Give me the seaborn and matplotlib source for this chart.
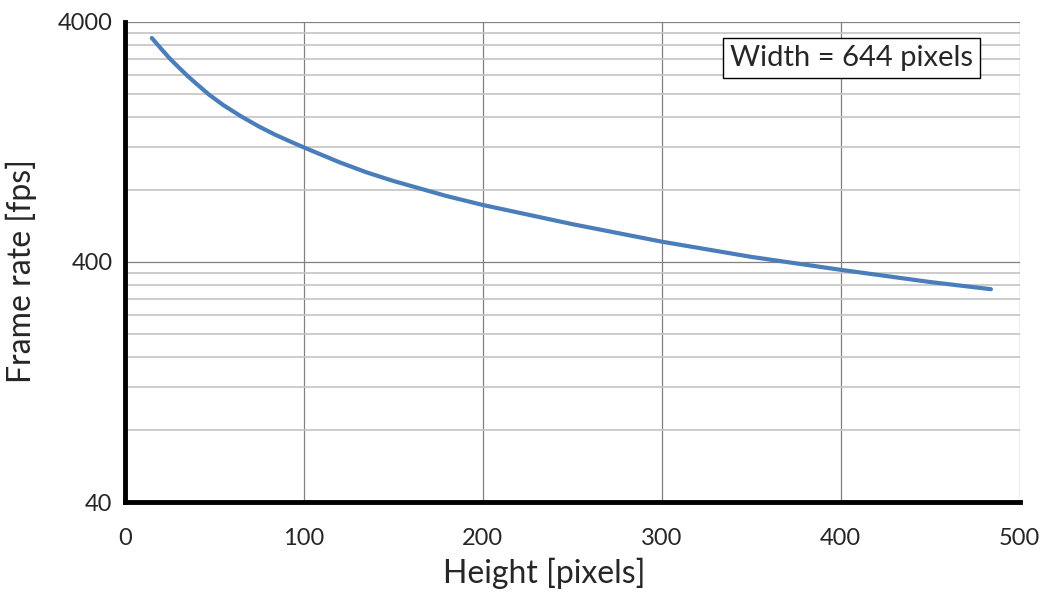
import numpy as np
import pandas as pd
import matplotlib
matplotlib.use("Agg")
import matplotlib.pyplot as plt
import matplotlib.ticker as mticker
import seaborn as sns

height = [15, 20, 25, 30, 35, 40, 47, 55, 65, 75, 84, 92, 100, 120, 135, 150,
          180, 200, 250, 300, 350, 400, 450, 484]
fps = [3428, 3105, 2818, 2588, 2382, 2208, 1991, 1800, 1615, 1465, 1355, 1274,
       1200, 1040, 945, 870, 752, 691, 575, 486, 420, 371, 330, 308]
label_text = "Width = 644 pixels"

df = pd.DataFrame({"height": height, "fps": fps})

sns.set_style("white")
plt.rcParams["font.family"] = ["Lato", "DejaVu Sans"]

fig = plt.figure(figsize=(10.5, 5.92), dpi=100)
ax = fig.add_axes([0.119, 0.152, 0.852, 0.811])

ax.set_yscale("log")
sns.lineplot(data=df, x="height", y="fps", ax=ax, color="#4a7ebb", linewidth=3)

ax.set_xlim(0, 500)
ax.set_ylim(40, 4000)
ax.xaxis.set_major_locator(mticker.MultipleLocator(100))
ax.yaxis.set_major_locator(mticker.FixedLocator([40, 400, 4000]))
ax.yaxis.set_major_formatter(mticker.FixedFormatter(["40", "400", "4000"]))
minor = [k * 40 for k in range(2, 10)] + [k * 400 for k in range(2, 10)]
ax.yaxis.set_minor_locator(mticker.FixedLocator(minor))
ax.yaxis.set_minor_formatter(mticker.NullFormatter())

ax.grid(True, which="major", axis="both", color="#808080", linewidth=0.9)
ax.grid(True, which="minor", axis="y", color="#c4c4c4", linewidth=1.2)
ax.set_axisbelow(True)

for side in ["top", "right"]:
    ax.spines[side].set_visible(False)
for side in ["left", "bottom"]:
    ax.spines[side].set_color("black")
    ax.spines[side].set_linewidth(3.5)

ax.tick_params(axis="both", which="major", direction="out", length=7, width=3,
               color="black", labelsize=17, labelcolor="#262626")
ax.tick_params(axis="x", which="major", pad=12)
ax.tick_params(axis="y", which="major", pad=2)
ax.tick_params(axis="y", which="minor", length=0)

ax.set_xlabel("Height [pixels]", fontsize=23)
ax.set_ylabel("Frame rate [fps]", fontsize=23)
ax.xaxis.set_label_coords(0.469, -0.115)
ax.yaxis.set_label_coords(-0.098, 0.48)

ax.text(0.812, 0.925, label_text, transform=ax.transAxes, ha="center", va="center",
        fontsize=21, bbox=dict(boxstyle="square,pad=0.25", facecolor="white",
                               edgecolor="black", linewidth=1))

fig.savefig("out.png", dpi=100)
